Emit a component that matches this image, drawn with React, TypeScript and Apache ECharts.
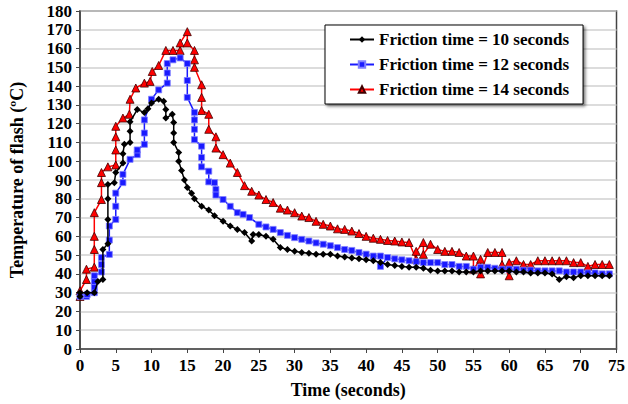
import React, { useEffect, useRef } from "react";
import * as echarts from "echarts";

const seriesNames = [
  "Friction time = 10 seconds",
  "Friction time = 12 seconds",
  "Friction time = 14 seconds",
];

const t10 = [0, 0, 1, 2, 2.5, 3.2, 3.2, 3.9, 3.9, 3.9, 3.9, 4.8, 5, 6, 6, 6.2, 7, 7, 7, 8, 9, 9.5, 10, 11, 11.7, 12, 12, 12.9, 13.1, 13.1, 13.1, 13.8, 13.8, 14.2, 14.6, 15, 15.6, 16, 17, 18, 18.8, 20, 21, 22, 23, 24, 24.2, 25, 26, 27, 28, 29, 30, 31, 32, 33, 34, 35, 36, 37, 38, 39, 40, 41, 42, 43, 44, 45, 46, 47, 48, 49, 50, 51, 52, 53, 54, 55, 56, 57, 58, 59, 60, 61, 62, 63, 64, 65, 66, 67, 68, 69, 70, 71, 72, 73, 74];
const temp10 = [28, 30, 30, 30, 36, 37, 53, 56, 69, 80, 87.6, 88.6, 94, 99, 104, 109, 110, 116, 121, 127.5, 126, 128, 131, 133, 132, 127.5, 123, 125, 120.6, 115, 110, 104.6, 100, 95, 90, 86, 83, 80, 76, 74, 71, 68, 65.5, 63.7, 62, 57.5, 61, 61, 60, 58.4, 54, 53, 52, 51.4, 51, 50.5, 50.5, 50.4, 49.5, 49, 48.5, 48, 47.5, 47, 46, 45, 44.5, 44, 43.5, 43.5, 43, 42, 41.6, 41.6, 41.5, 41, 41, 41, 41.6, 41.6, 41.6, 41.5, 41.5, 41, 41, 40.5, 40.5, 40.5, 40, 37, 38.5, 38, 39, 39, 39, 39, 39];

const t12 = [0, 0.9, 1, 2, 2, 2, 2, 3, 3, 3, 4.1, 4.1, 4.1, 5, 5, 5, 6, 6, 7, 8, 8, 9, 9, 9, 10, 11, 12.2, 12.2, 12.2, 13, 14, 15, 15, 15, 16, 16, 16, 16, 17, 17, 17, 18, 18, 18.8, 19, 19, 20, 21, 22, 22.8, 23.7, 25, 26, 27, 28, 29, 30, 31, 32, 33, 34, 35, 36, 37, 38, 39, 40, 41, 42, 42, 43, 44, 45, 46, 47, 48, 49, 50, 51, 52, 53, 54, 55, 56, 57, 58, 59, 60, 61, 62, 63, 64, 65, 66, 67, 68, 69, 70, 71, 72, 73, 74];
const temp12 = [28, 28, 29, 30, 33, 36, 39, 41, 45, 48.7, 50.4, 58, 65.5, 69, 76, 83, 88.6, 93, 101, 103.5, 106, 109, 115, 122, 133, 138, 141.6, 147, 152, 154, 155, 152, 143, 134, 126, 122, 117, 111.5, 108, 102, 97, 94.7, 89, 88.6, 85, 82, 79.6, 76, 72.6, 71.7, 70, 66.4, 65, 63.7, 62, 60.5, 59.3, 58.4, 57.5, 56.5, 55.8, 55, 54, 53, 52.5, 51.4, 50.5, 49.5, 49.5, 44, 48.7, 48, 47.5, 47, 46.5, 46, 46, 46, 45, 45, 44, 44, 42.5, 43.5, 43.5, 43, 42.5, 42.5, 42.5, 42, 42, 41.6, 41.6, 41.6, 41.6, 41, 41, 41, 40.5, 40.5, 40, 40];

const t14 = [0, 0, 0.9, 0.9, 2, 2, 2, 2, 3, 3, 3, 3.9, 5, 5, 5, 5, 6, 6.9, 7, 7.8, 9, 9.8, 10.1, 11, 12, 13, 14, 14, 15, 15, 16, 16, 16, 17, 17, 17, 18, 18, 19, 19, 20, 21, 22, 23, 24, 25, 26, 27, 28, 29, 30, 31, 32, 33, 34, 35, 36, 37, 38, 39, 40, 41, 42, 43, 44, 45, 46, 47, 47, 48, 48, 49, 50, 51, 52, 53, 54, 55, 55, 56, 56, 57, 58, 59, 59, 60, 60, 61, 62, 63, 64, 65, 66, 67, 68, 69, 70, 71, 72, 73, 74];
const temp14 = [28, 31, 37, 42.5, 43.6, 53, 60, 72.6, 79.6, 88.6, 94, 97, 98, 106, 113, 118.6, 123, 125, 133, 139, 141.6, 142.5, 147.8, 151, 159, 159, 159, 163, 169, 163, 159, 154, 150, 140.7, 134, 127, 125, 117, 113, 107, 103.5, 99, 94, 87, 84, 82, 79.6, 78, 75, 74, 72.6, 70.8, 70, 68, 66.4, 65.5, 64, 63.7, 62.8, 61.5, 60, 59, 58.4, 57.8, 57.5, 57, 56.7, 47.8, 52, 56.7, 50.4, 55.8, 53, 52, 52, 51.4, 49.5, 49.5, 42.5, 47.8, 40, 51.4, 51.4, 51.4, 45, 39, 46, 47, 45, 45, 47, 47, 47, 47, 47, 46, 46, 44, 45, 45, 45];

const xTicks = [0, 5, 10, 15, 20, 25, 30, 35, 40, 45, 50, 55, 60, 65, 70, 75];

const zip = (xs: number[], ys: number[]) => xs.map((x, i) => [x, ys[i]]);

export default function App() {
  const ref = useRef<HTMLDivElement>(null);
  useEffect(() => {
    if (!ref.current) return;
    const chart = echarts.init(ref.current, undefined, { renderer: "svg" });
    const font = "Liberation Serif";
    const colors = ["#000000", "#1a1aff", "#ff0000"];
    const symbols = ["diamond", "rect", "triangle"];
    const sizes = [7, 6, 8];
    const datasets = [zip(t10, temp10), zip(t12, temp12), zip(t14, temp14)];
    chart.setOption({
      animation: false,
      grid: {
        left: 77,
        right: 9,
        top: 11,
        bottom: 54,
        show: true,
        borderColor: "#444",
        borderWidth: 1.5,
      },
      legend: {
        orient: "vertical",
        left: 325,
        top: 25,
        padding: [6, 14, 6, 24],
        itemGap: 8,
        itemWidth: 24,
        itemHeight: 8,
        backgroundColor: "#fff",
        borderColor: "#000",
        borderWidth: 1,
        shadowColor: "rgba(0,0,0,0.5)",
        shadowBlur: 3,
        shadowOffsetX: 2,
        shadowOffsetY: 2,
        textStyle: {
          fontFamily: font,
          fontWeight: "bold",
          fontSize: 17,
          color: "#000",
        },
        data: seriesNames,
      },
      xAxis: {
        type: "value",
        min: 0,
        max: 75,
        interval: 5,
        name: "Time (seconds)",
        nameLocation: "middle",
        nameGap: 32,
        nameTextStyle: { fontFamily: font, fontWeight: "bold", fontSize: 18, color: "#000" },
        axisLine: { show: true, lineStyle: { color: "#444", width: 1.5 } },
        axisTick: { show: true, length: 4, inside: false, lineStyle: { color: "#444" } },
        axisLabel: {
          fontFamily: font,
          fontWeight: "bold",
          fontSize: 17,
          color: "#000",
          margin: 8,
          formatter: (v: number) => (xTicks.includes(v) ? String(v) : ""),
        },
        splitLine: { show: false },
      },
      yAxis: {
        type: "value",
        min: 0,
        max: 180,
        interval: 10,
        name: "Temperature of flash (ºC)",
        nameLocation: "middle",
        nameGap: 54,
        nameTextStyle: { fontFamily: font, fontWeight: "bold", fontSize: 18, color: "#000" },
        axisLine: { show: true, lineStyle: { color: "#444", width: 1.5 } },
        axisTick: { show: true, length: 4, inside: false, lineStyle: { color: "#444" } },
        axisLabel: {
          fontFamily: font,
          fontWeight: "bold",
          fontSize: 17,
          color: "#000",
          margin: 8,
        },
        splitLine: { show: true, lineStyle: { color: "#d0d0d0", width: 1.5 } },
      },
      series: datasets.map((d, i) => ({
        name: seriesNames[i],
        type: "line",
        data: d,
        symbol: symbols[i],
        symbolSize: sizes[i],
        showAllSymbol: true,
        lineStyle: { color: colors[i], width: 1.5 },
        itemStyle: {
          color: colors[i],
          borderColor: i === 2 ? "#400000" : i === 1 ? "#8080ff" : "#000",
          borderWidth: i === 0 ? 0 : 0.8,
        },
        z: 2 + (2 - i),
      })),
    });
    return () => chart.dispose();
  }, []);
  return <div ref={ref} style={{ width: 628, height: 404, position: "absolute", left: 0, top: 0 }} />;
}
